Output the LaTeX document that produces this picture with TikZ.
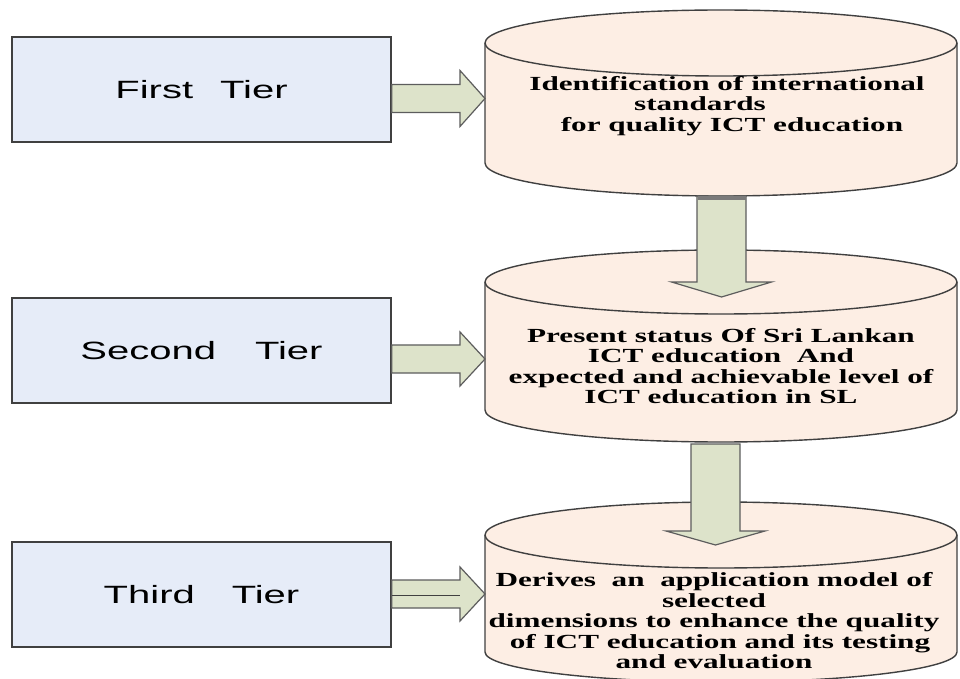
\documentclass[tikz,border=0pt]{standalone}
\usepackage{fontspec}
\usetikzlibrary{calc}
\newfontfamily\boxfont[FakeStretch=1.6]{Liberation Sans}
\newfontfamily\cylfont[FakeStretch=1.56]{Liberation Serif Bold}
\definecolor{boxfill}{HTML}{E6ECF8}
\definecolor{cylfill}{HTML}{FDEEE4}
\definecolor{arrfill}{HTML}{DDE3CA}
\definecolor{edge}{HTML}{404040}
\definecolor{band}{HTML}{7A7A7A}
\newcommand\hfat[4]{%
  \draw[fatarrow] ($(#1.east |- #2)+(0,#3)$) -- ($(#2)+(-25,#3)$) -- ($(#2)+(-25,#4)$) -- (#2)
    -- ($(#2)+(-25,-#4)$) -- ($(#2)+(-25,-#3)$) -- ($(#1.east |- #2)+(0,-#3)$) -- cycle;}
\newcommand\vfat[5]{%
  \draw[fatarrow] ($(#1)+(-#3,0)$) -- ($(#2)+(-#3,#5)$) -- ($(#2)+(-#4,#5)$) -- (#2)
    -- ($(#2)+(#4,#5)$) -- ($(#2)+(#3,#5)$) -- ($(#1)+(#3,0)$) -- cycle;}
\begin{document}
\begin{tikzpicture}[x=1pt,y=1pt,
  tierbox/.style={draw=edge,line width=1.6pt,fill=boxfill,minimum width=379pt,minimum height=105pt,inner sep=0pt,font=\boxfont\fontsize{25}{30}\selectfont},
  drum/.style={draw=edge,line width=1.4pt,fill=cylfill},
  drumline/.style={draw=edge,line width=1.4pt},
  drumtext/.style={align=center,inner sep=0pt,font=\cylfont\fontsize{20}{20.5}\selectfont},
  fatarrow/.style={draw=edge!85,line width=1.2pt,fill=arrfill,line join=miter}]
\useasboundingbox (0,0) rectangle (960,678);
\fill[white] (0,0) rectangle (960,678);

% tier boxes
\node[tierbox] (box1) at (201.5,588.5) {First\hspace{27pt}Tier};
\node[tierbox] (box2) at (201.5,327.5) {Second\hspace{39pt}Tier};
\node[tierbox] (box3) at (201.5,83.5) {Third\hspace{37pt}Tier};

% cylinders
\draw[drum] (485,635) -- (485,515) arc[start angle=180,end angle=360,x radius=236,y radius=33]
  -- (957,635) arc[start angle=0,end angle=180,x radius=236,y radius=33] -- cycle;
\draw[drumline] (485,635) arc[start angle=180,end angle=360,x radius=236,y radius=33];

\draw[drum] (485,396) -- (485,268) arc[start angle=180,end angle=360,x radius=236,y radius=32]
  -- (957,396) arc[start angle=0,end angle=180,x radius=236,y radius=32] -- cycle;
\draw[drumline] (485,396) arc[start angle=180,end angle=360,x radius=236,y radius=32];

\draw[drum] (485,143) -- (485,26) arc[start angle=180,end angle=360,x radius=236,y radius=30]
  -- (957,143) arc[start angle=0,end angle=180,x radius=236,y radius=33] -- cycle;
\draw[drumline] (485,143) arc[start angle=180,end angle=360,x radius=236,y radius=33];

% cylinder texts
\node[drumtext] (c1) at (727,572) {Identification of international\\standards\makebox[54pt]{}\\\makebox[10pt]{}for quality ICT education};
\node[drumtext] (c2) at (721,312) {Present status Of Sri Lankan\\ICT education\ \ And\\expected and achievable level of\\ICT education in SL};
\node[drumtext] (c3) at (714,57) {Derives\ \ an\ \ application model of\\selected\\dimensions to enhance the quality\\\makebox[12pt]{}of ICT education and its testing\\and evaluation};

% arrow end points
\coordinate (t1) at (485,579.5);
\coordinate (t2) at (485,319);
\coordinate (t3) at (485,84);
\coordinate (d1s) at (721.5,482);
\coordinate (d1t) at (721.5,381);
\coordinate (d2s) at (715.5,234);
\coordinate (d2t) at (715.5,133);

% horizontal arrows
\hfat{box1}{t1}{14}{28}
\hfat{box2}{t2}{14}{27}
\hfat{box3}{t3}{14}{27}
\draw[edge,line width=0.8pt] ($(box3.east |- t3)+(0,-1)$) -- ($(t3)+(-25,-1)$);

% vertical arrows
\vfat{d1s}{d1t}{24.5}{50}{15}
\draw[band,line width=4pt] ($(d1s)+(-24,-2.5)$) -- ($(d1s)+(24,-2.5)$);
\vfat{d2s}{d2t}{24.5}{49.5}{14}
\end{tikzpicture}
\end{document}
